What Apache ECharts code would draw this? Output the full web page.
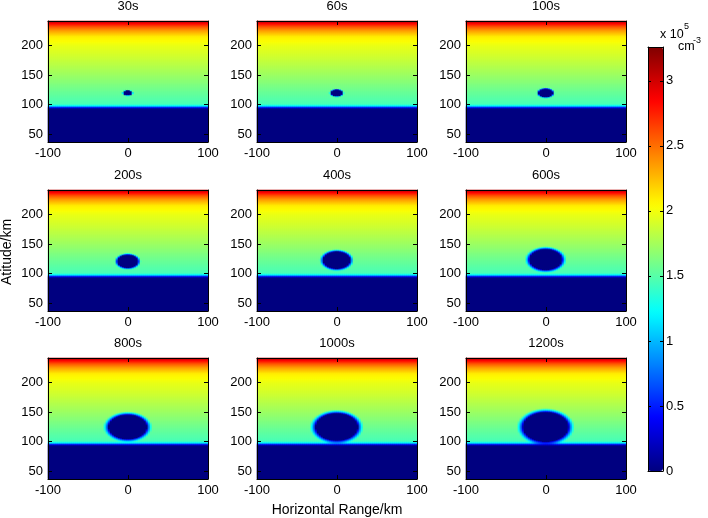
<!DOCTYPE html>
<html>
<head>
<meta charset="utf-8">
<script src="https://cdn.jsdelivr.net/npm/echarts@6/dist/echarts.min.js"></script>
<style>
html, body { margin: 0; padding: 0; background: #fff; }
#main { width: 708px; height: 518px; }
</style>
</head>
<body>
<div id="main"></div>
<script>
// panel titles (time after release)
const panelTitles = ['30s', '60s', '100s', '200s', '400s', '600s', '800s', '1000s', '1200s'];
// depletion hole: half width (km), half height (km), centre altitude (km), edge blur (km)
const holeRx = [5.4, 7.2, 9, 13, 17, 20.5, 24, 26.5, 28.5];
const holeRy = [4, 5.5, 7, 11, 14.5, 17.5, 20.5, 23, 25];
const holeY = [120, 120, 120, 121, 123, 124, 125, 125, 125];
const holeEdge = [1.5, 2, 2.5, 3.5, 4.5, 5.5, 6.5, 7, 7.5];
// background density profile, x 10^5 cm^-3
const profileAlt = [37, 93, 95, 97, 99, 101, 120, 150, 180, 200, 215, 225, 232, 238, 241];
const profileVal = [0, 0, 0.3, 0.9, 1.3, 1.45, 1.55, 1.72, 1.88, 1.97, 2.1, 2.35, 2.6, 2.9, 3.15];
// axes
const xTicks = [-100, 0, 100];
const yTicks = [50, 100, 150, 200];
const cbTicks = [0, 0.5, 1, 1.5, 2, 2.5, 3];
const cbMax = 3.26;
const yMin = 37, yMax = 241;

const FONT = 'Liberation Sans, Arial, Helvetica, sans-serif';
const colLeft = [48, 257, 466];
const rowTop = [21, 190, 358];
const gw = 160, gh = 121;

// cell centres: 2 px wide, 1 px tall
const nx = gw / 2, ny = gh;
const xCats = [], yCats = [];
for (let i = 0; i < nx; i++) xCats.push(+(-100 + (i + 0.5) * 200 / nx).toFixed(3));
for (let j = 0; j < ny; j++) yCats.push(+(yMin + (j + 0.5) * (yMax - yMin) / ny).toFixed(3));

function clamp(v) { return Math.max(0, Math.min(1, v)); }

function jet(t) {
  const r = clamp(1.5 - Math.abs(4 * t - 3));
  const g = clamp(1.5 - Math.abs(4 * t - 2));
  const b = clamp(1.5 - Math.abs(4 * t - 1));
  const h = v => Math.round(v * 255).toString(16).padStart(2, '0');
  return '#' + h(r) + h(g) + h(b);
}
const jetColors = [];
for (let k = 0; k < 64; k++) jetColors.push(jet(k / 63));

function background(alt) {
  for (let i = 1; i < profileAlt.length; i++) {
    if (alt <= profileAlt[i]) {
      const t = (alt - profileAlt[i - 1]) / (profileAlt[i] - profileAlt[i - 1]);
      return profileVal[i - 1] + t * (profileVal[i] - profileVal[i - 1]);
    }
  }
  return profileVal[profileVal.length - 1];
}

function panelData(p) {
  const out = [];
  xCats.forEach((x, xi) => {
    yCats.forEach((y, yi) => {
      const d = Math.sqrt(Math.pow(x / holeRx[p], 2) + Math.pow((y - holeY[p]) / holeRy[p], 2));
      let f = clamp((d - 1) * holeRx[p] / holeEdge[p]);
      f = Math.sqrt(f) * 0.6 + f * 0.4;
      out.push([xi, yi, +(background(y) * f).toFixed(3)]);
    });
  });
  return out;
}

const grid = [], xAxis = [], yAxis = [], series = [], graphic = [];

const lineStyle = { color: '#000', width: 1 };

panelTitles.forEach((name, p) => {
  const left = colLeft[p % 3], top = rowTop[Math.floor(p / 3)];
  grid.push({ left: left, top: top, width: gw, height: gh, containLabel: false, outerBoundsMode: 'none' });

  xAxis.push({ type: 'category', gridIndex: p, data: xCats, show: false });
  xAxis.push({
    type: 'value', gridIndex: p, min: -100, max: 100, position: 'bottom', z: 5,
    axisLine: { show: true, onZero: false, lineStyle: lineStyle },
    axisTick: { show: true, inside: true, length: 4, customValues: xTicks, lineStyle: lineStyle },
    axisLabel: { customValues: xTicks, margin: 5, color: '#000', fontSize: 13, fontFamily: FONT },
    splitLine: { show: false }
  });
  xAxis.push({
    type: 'value', gridIndex: p, min: -100, max: 100, position: 'top', z: 5,
    axisLine: { show: true, onZero: false, lineStyle: lineStyle },
    axisTick: { show: true, inside: true, length: 4, customValues: xTicks, lineStyle: lineStyle },
    axisLabel: { show: false },
    splitLine: { show: false }
  });

  yAxis.push({ type: 'category', gridIndex: p, data: yCats, show: false });
  yAxis.push({
    type: 'value', gridIndex: p, min: yMin, max: yMax, position: 'left', z: 5,
    axisLine: { show: true, onZero: false, lineStyle: lineStyle },
    axisTick: { show: true, inside: true, length: 4, customValues: yTicks, lineStyle: lineStyle },
    axisLabel: { customValues: yTicks, margin: 5, color: '#000', fontSize: 13, fontFamily: FONT },
    splitLine: { show: false }
  });
  yAxis.push({
    type: 'value', gridIndex: p, min: yMin, max: yMax, position: 'right', z: 5,
    axisLine: { show: true, onZero: false, lineStyle: lineStyle },
    axisTick: { show: true, inside: true, length: 4, customValues: yTicks, lineStyle: lineStyle },
    axisLabel: { show: false },
    splitLine: { show: false }
  });

  series.push({
    name: name,
    type: 'heatmap',
    xAxisIndex: p * 3,
    yAxisIndex: p * 3,
    data: panelData(p),
    progressive: 0,
    itemStyle: { borderWidth: 0 },
    emphasis: { disabled: true }
  });

  graphic.push({
    type: 'text', x: left + gw / 2, y: top - 15, silent: true,
    style: { text: name, font: '13px ' + FONT, fill: '#000', align: 'center', verticalAlign: 'middle' }
  });
});

// colour bar frame and ticks
const cb = { left: 648, top: 47, width: 15, height: 424 };
grid.push({ left: cb.left, top: cb.top, width: cb.width, height: cb.height, containLabel: false, outerBoundsMode: 'none' });
xAxis.push({ type: 'value', gridIndex: 9, min: 0, max: 1, position: 'bottom', z: 6,
  axisLine: { show: true, onZero: false, lineStyle: lineStyle }, axisTick: { show: false }, axisLabel: { show: false }, splitLine: { show: false } });
xAxis.push({ type: 'value', gridIndex: 9, min: 0, max: 1, position: 'top', z: 6,
  axisLine: { show: true, onZero: false, lineStyle: lineStyle }, axisTick: { show: false }, axisLabel: { show: false }, splitLine: { show: false } });
yAxis.push({ type: 'value', gridIndex: 9, min: 0, max: cbMax, position: 'right', z: 6,
  axisLine: { show: true, onZero: false, lineStyle: lineStyle },
  axisTick: { show: true, inside: true, length: 3, customValues: cbTicks, lineStyle: lineStyle },
  axisLabel: { customValues: cbTicks, margin: 3, color: '#000', fontSize: 13, fontFamily: FONT },
  splitLine: { show: false } });
yAxis.push({ type: 'value', gridIndex: 9, min: 0, max: cbMax, position: 'left', z: 6,
  axisLine: { show: true, onZero: false, lineStyle: lineStyle },
  axisTick: { show: true, inside: true, length: 3, customValues: cbTicks, lineStyle: lineStyle },
  axisLabel: { show: false }, splitLine: { show: false } });

// axis names and unit
graphic.push(
  { type: 'text', x: 7, y: 252, rotation: Math.PI / 2, silent: true,
    style: { text: 'Atitude/km', font: '14px ' + FONT, fill: '#000', align: 'center', verticalAlign: 'middle' } },
  { type: 'text', x: 337, y: 510, silent: true,
    style: { text: 'Horizontal Range/km', font: '14px ' + FONT, fill: '#000', align: 'center', verticalAlign: 'middle' } },
  { type: 'text', x: 660, y: 35, silent: true,
    style: { text: 'x 10', font: '12.5px ' + FONT, fill: '#000', align: 'left', verticalAlign: 'middle' } },
  { type: 'text', x: 684, y: 27, silent: true,
    style: { text: '5', font: '9px ' + FONT, fill: '#000', align: 'left', verticalAlign: 'middle' } },
  { type: 'text', x: 678, y: 47, silent: true,
    style: { text: 'cm', font: '12.5px ' + FONT, fill: '#000', align: 'left', verticalAlign: 'middle' } },
  { type: 'text', x: 693, y: 41, silent: true,
    style: { text: '-3', font: '9px ' + FONT, fill: '#000', align: 'left', verticalAlign: 'middle' } }
);

const chart = echarts.init(document.getElementById('main'), null, { renderer: 'canvas' });
chart.setOption({
  animation: false,
  backgroundColor: '#fff',
  grid: grid,
  xAxis: xAxis,
  yAxis: yAxis,
  visualMap: {
    type: 'continuous',
    min: 0,
    max: cbMax,
    seriesIndex: series.map((s, i) => i),
    orient: 'vertical',
    left: cb.left,
    top: cb.top,
    itemWidth: cb.width,
    itemHeight: cb.height,
    padding: 0,
    calculable: false,
    hoverLink: false,
    text: null,
    inRange: { color: jetColors }
  },
  graphic: graphic,
  series: series
});
</script>
</body>
</html>
